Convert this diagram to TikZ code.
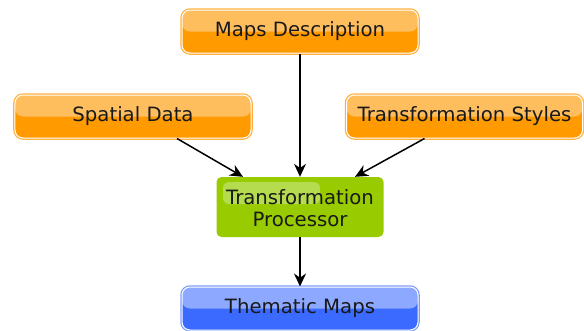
\documentclass[tikz,border=0pt]{standalone}
\usepackage{fontspec}
\setmainfont{DejaVu Sans}
\usetikzlibrary{arrows.meta}

\definecolor{orangetop}{HTML}{FFBE5E}
\definecolor{orangebot}{HTML}{FF9A00}
\definecolor{orangeedge}{HTML}{FFB040}
\definecolor{bluetop}{HTML}{8CA8FF}
\definecolor{bluebot}{HTML}{3A6AFF}
\definecolor{blueedge}{HTML}{7F9CFF}
\definecolor{greenbox}{HTML}{99CC00}
\definecolor{greenshine}{HTML}{B5DB4F}

\tikzset{
  gloss/.style n args={3}{rounded corners=8bp, minimum width=236bp, minimum height=43bp,
    fill=#2, draw=white, line width=1bp,
    preaction={draw=#3, line width=3.5bp},
    path picture={\fill[#1] (path picture bounding box.north west) rectangle (path picture bounding box.east);},
    font=\fontsize{19.7bp}{22bp}\selectfont, text=black!90},
  inputbox/.style={gloss={orangetop}{orangebot}{orangeedge}},
  outputbox/.style={gloss={bluetop}{bluebot}{blueedge}},
  procbox/.style={rounded corners=5bp, minimum width=167bp, minimum height=60bp,
    fill=greenbox},
  proclabel/.style={align=center, font=\fontsize{19.7bp}{22bp}\selectfont, text=black!90},
  flow/.style={-{Stealth[length=13bp,width=12bp]}, line width=1.5bp}
}

\begin{document}
\begin{tikzpicture}[x=1bp,y=-1bp]
    \useasboundingbox (0,0) rectangle (584,330);

    % inputs
    \node[inputbox] (maps) at (300,31.5) {Maps Description};
    \node[inputbox] (spatial) at (133,116.5) {Spatial Data};
    \node[inputbox] (styles) at (464.5,116.5) {Transformation Styles};

    % processor with its shine
    \node[procbox] (proc) at (300,207) {};
    \fill[greenshine, rounded corners=6bp] (223,182) rectangle (320,204);
    \node[proclabel] (proctext) at ([yshift=-1bp]proc) {Transformation\\Processor};

    % output
    \node[outputbox] (thematic) at (300,308.5) {Thematic Maps};

    % ends of the slanted arrows
    \coordinate (spfoot) at ([xshift=44bp]spatial.south);
    \coordinate (stfoot) at ([xshift=-40bp]styles.south);
    \coordinate (procleft) at ([xshift=-57bp]proc.north);
    \coordinate (procright) at ([xshift=55bp]proc.north);

    % arrows
    \draw[flow] (maps) -- (proc);
    \draw[flow] (spfoot) -- (procleft);
    \draw[flow] (stfoot) -- (procright);
    \draw[flow] (proc) -- (thematic);
\end{tikzpicture}
\end{document}
